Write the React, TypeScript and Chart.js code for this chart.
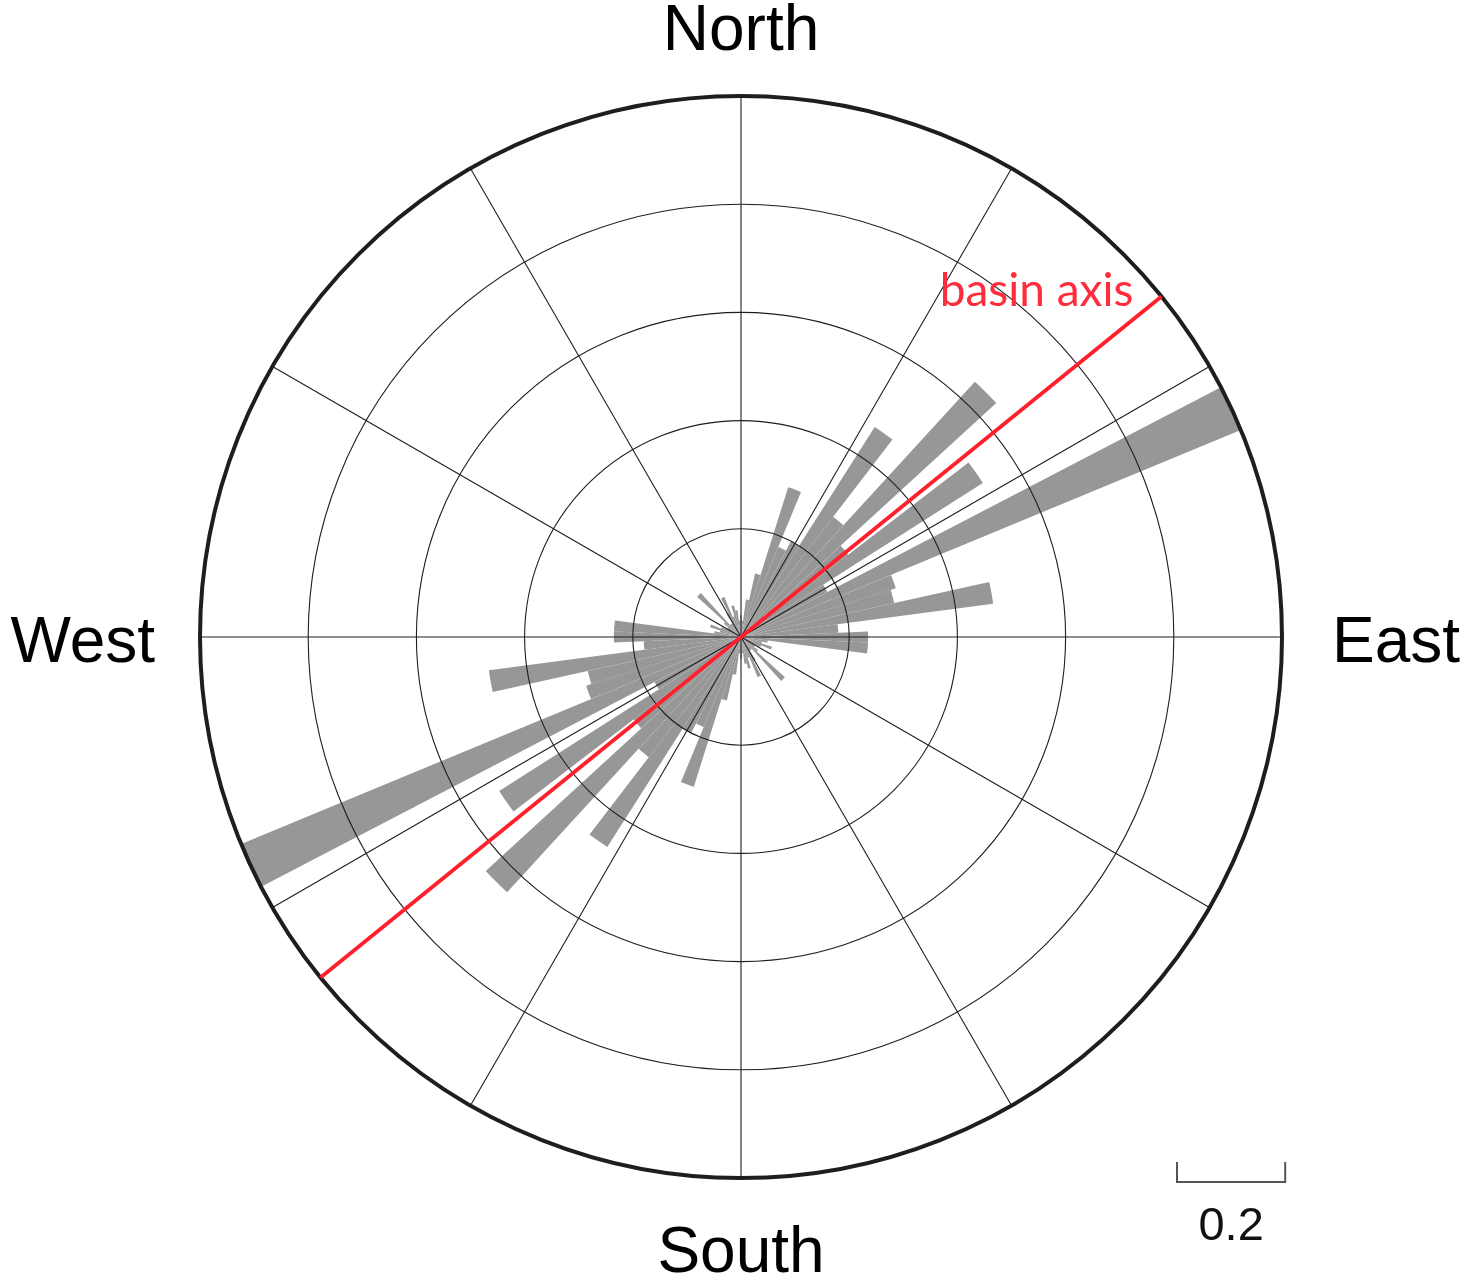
import React, { useEffect, useRef } from "react";
import { Chart, registerables } from "chart.js";

Chart.register(...registerables);

// Sector centre azimuths (degrees clockwise from north), 5° bins, half rose (axial data)
const sectorAzimuths = [
  0, 5, 10, 15, 20, 25, 30, 35, 40, 45, 50, 55, 60, 65, 70, 75, 80, 85,
  90, 95, 100, 105, 110, 115, 120, 125, 130, 135, 140, 145, 150, 155, 160, 165, 170, 175,
];
// Normalised frequency per sector (the opposite sector, +180°, carries the same value)
const sectorFrequencies = [
  0.04, 0.03, 0.07, 0.12, 0.29, 0.18, 0.2, 0.46, 0.28, 0.64, 0.25, 0.53, 0.18, 1.0, 0.3, 0.29, 0.47, 0.18,
  0.235, 0.235, 0.05, 0.04, 0.06, 0.04, 0.03, 0.03, 0.04, 0.11, 0.03, 0.03, 0.05, 0.08, 0.04, 0.06, 0.05, 0.03,
];
const radialMax = 1.0;
const ringStep = 0.2;
const spokeAzimuths = [0, 30, 60, 90, 120, 150, 180, 210, 240, 270, 300, 330];
const directionLabels = ["North", "East", "South", "West"];
const basinAxisAzimuth = 51;
const basinAxisLabel = "basin axis";
const scaleBarValue = 0.2;
const scaleBarLabel = "0.2";

const roseLabels = [...sectorAzimuths, ...sectorAzimuths.map((a) => a + 180)].map((a) => `${a}°`);
const roseValues = [...sectorFrequencies, ...sectorFrequencies];

const overlayPlugin = {
  id: "roseOverlay",
  afterDraw(chart: any) {
    const s = chart.scales.r;
    const ctx = chart.ctx as CanvasRenderingContext2D;
    const cx = s.xCenter;
    const cy = s.yCenter;
    const R = s.getDistanceFromCenterForValue(radialMax);
    const pt = (az: number, r: number) => {
      const t = (az * Math.PI) / 180;
      return [cx + r * Math.sin(t), cy - r * Math.cos(t)];
    };
    ctx.save();
    // spokes
    ctx.strokeStyle = "#1e1e1e";
    ctx.lineWidth = 1.1;
    spokeAzimuths.forEach((az) => {
      const [x, y] = pt(az, R);
      ctx.beginPath();
      ctx.moveTo(cx, cy);
      ctx.lineTo(x, y);
      ctx.stroke();
    });
    // basin axis
    ctx.strokeStyle = "rgb(255,32,44)";
    ctx.lineWidth = 3.8;
    const [ax1, ay1] = pt(basinAxisAzimuth, R);
    const [ax2, ay2] = pt(basinAxisAzimuth + 180, R);
    ctx.beginPath();
    ctx.moveTo(ax2, ay2);
    ctx.lineTo(ax1, ay1);
    ctx.stroke();
    ctx.fillStyle = "rgb(255,45,60)";
    ctx.font = '46px Lato, "Open Sans", sans-serif';
    ctx.textAlign = "right";
    ctx.textBaseline = "alphabetic";
    ctx.fillText(basinAxisLabel, ax1 - 28, ay1 + 9);

    // direction labels
    ctx.fillStyle = "#000";
    ctx.font = '64px "Liberation Sans", Arial, sans-serif';
    ctx.textBaseline = "alphabetic";
    ctx.textAlign = "center";
    ctx.fillText(directionLabels[0], cx, cy - R - 46);
    ctx.fillText(directionLabels[2], cx, cy + R + 94);
    ctx.textAlign = "left";
    ctx.fillText(directionLabels[1], cx + R + 50, cy + 25);
    ctx.textAlign = "right";
    ctx.fillText(directionLabels[3], cx - R - 45, cy + 25);

    // scale bar
    const len = s.getDistanceFromCenterForValue(scaleBarValue);
    const bx = cx + R - 105;
    const by = cy + R + 4;
    ctx.strokeStyle = "#555";
    ctx.lineWidth = 2;
    ctx.beginPath();
    ctx.moveTo(bx, by - 20);
    ctx.lineTo(bx, by);
    ctx.lineTo(bx + len, by);
    ctx.lineTo(bx + len, by - 20);
    ctx.stroke();
    ctx.fillStyle = "#111";
    ctx.font = '47px "Liberation Sans", Arial, sans-serif';
    ctx.textAlign = "center";
    ctx.fillText(scaleBarLabel, bx + len / 2, by + 58);
    ctx.restore();
  },
};

export default function App() {
  const ref = useRef<HTMLCanvasElement | null>(null);
  useEffect(() => {
    if (!ref.current) return;
    const chart = new Chart(ref.current, {
      type: "polarArea",
      data: {
        labels: roseLabels,
        datasets: [
          {
            data: roseValues,
            backgroundColor: "#979797",
            borderWidth: 0,
          },
        ],
      },
      options: {
        responsive: false,
        animation: false,
        devicePixelRatio: 1,
        layout: { padding: { left: 200, right: 179, top: 96, bottom: 101 } },
        plugins: { legend: { display: false }, tooltip: { enabled: false } },
        scales: {
          r: {
            min: 0,
            max: radialMax,
            startAngle: -2.5,
            ticks: { display: false, stepSize: ringStep },
            angleLines: { display: false },
            pointLabels: { display: false },
            grid: {
              circular: true,
              z: 1,
              color: "#1e1e1e",
              lineWidth: (c: any) => (c.tick && Math.abs(c.tick.value - radialMax) < 1e-6 ? 4 : 1.1),
            },
          },
        },
      },
      plugins: [overlayPlugin],
    } as any);
    return () => chart.destroy();
  }, []);
  return (
    <div style={{ position: "fixed", left: 0, top: 0, width: 1461, height: 1279, background: "#fff" }}>
      <canvas ref={ref} width={1461} height={1279} style={{ display: "block" }} />
    </div>
  );
}
